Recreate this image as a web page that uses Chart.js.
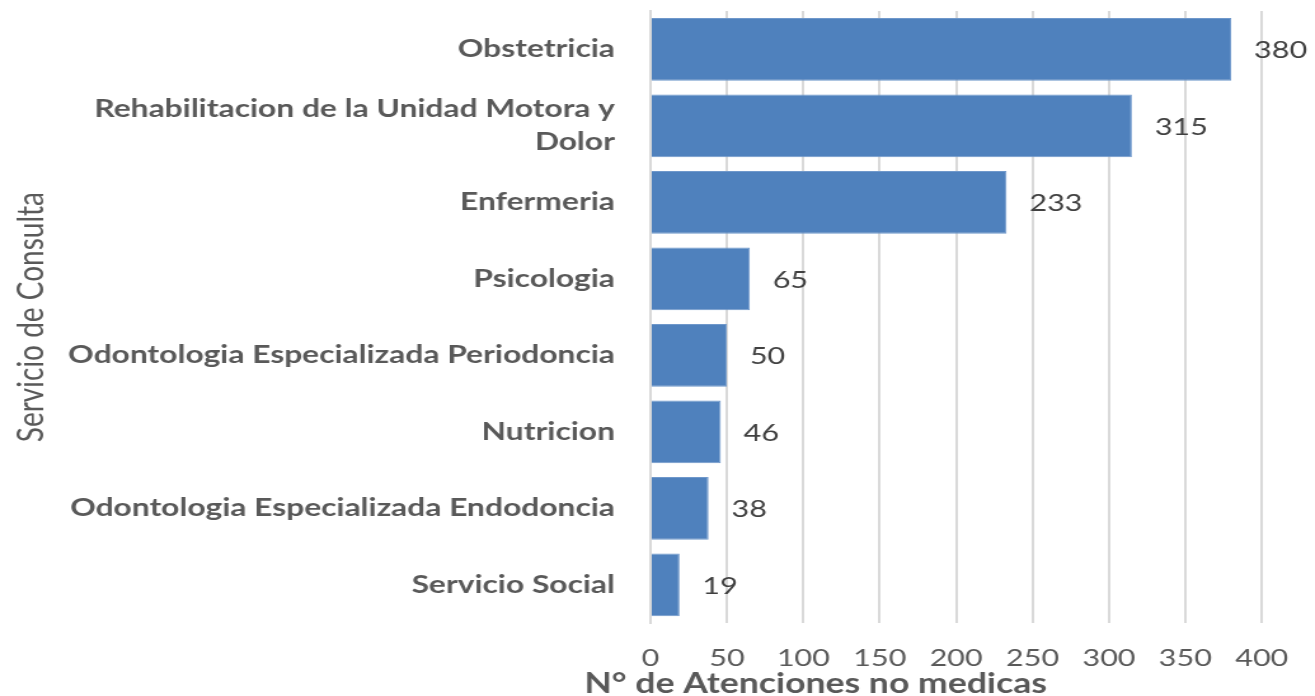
<!DOCTYPE html>
<html>
<head>
<meta charset="utf-8">
<script src="https://cdn.jsdelivr.net/npm/chart.js@4/dist/chart.umd.min.js"></script>
<style>
    body { margin: 0; background: #fff; overflow: hidden; }
    /* the source picture is stretched sideways, so the canvas is too */
    #chartBox { width: 1035px; height: 696px; transform: scaleX(1.2705); transform-origin: 0 0; }
</style>
</head>
<body>
<div id="chartBox">
    <canvas id="serviciosChart" width="1035" height="696"></canvas>
</div>
<script>
var servicios = [
    'Obstetricia',
    ['Rehabilitacion de la Unidad Motora y', 'Dolor'],
    'Enfermeria',
    'Psicologia',
    'Odontologia Especializada Periodoncia',
    'Nutricion',
    'Odontologia Especializada Endodoncia',
    'Servicio Social'
];
var atenciones = [380, 315, 233, 65, 50, 46, 38, 19];
var ejeX = { min: 0, max: 400, paso: 50 };
var tituloX = 'N° de Atenciones no medicas';
var tituloY = 'Servicio de Consulta';

var textColor = '#595959';
var gridColor = '#d9d9d9';

// numbers at the end of every bar
var valueLabels = {
    id: 'valueLabels',
    afterDatasetsDraw: function (chart) {
        var ctx = chart.ctx;
        var meta = chart.getDatasetMeta(0);
        ctx.save();
        ctx.font = '24px Lato';
        ctx.fillStyle = '#404040';
        ctx.textAlign = 'left';
        ctx.textBaseline = 'middle';
        meta.data.forEach(function (bar, i) {
            ctx.fillText(String(chart.data.datasets[0].data[i]), bar.x + 18, bar.y + 1);
        });
        ctx.restore();
    }
};

// x axis title sits a bit left of the plot centre in the source
var xTitle = {
    id: 'xTitle',
    afterDraw: function (chart) {
        var ctx = chart.ctx;
        ctx.save();
        ctx.font = 'bold 28px Lato';
        ctx.fillStyle = textColor;
        ctx.textAlign = 'center';
        ctx.textBaseline = 'middle';
        ctx.fillText(tituloX, chart.chartArea.left + 130, 684);
        ctx.restore();
    }
};

var ctx = document.getElementById('serviciosChart').getContext('2d');
var serviciosChart = new Chart(ctx, {
    type: 'bar',
    data: {
        labels: servicios,
        datasets: [{
            label: 'Atenciones',
            data: atenciones,
            backgroundColor: '#4f81bd',
            borderColor: '#6f98cb',
            borderWidth: 1,
            barPercentage: 0.82,
            categoryPercentage: 1
        }]
    },
    options: {
        indexAxis: 'y',
        responsive: false,
        animation: false,
        devicePixelRatio: 1,
        layout: { padding: { top: 11, right: 38, bottom: 2, left: 0 } },
        plugins: {
            legend: { display: false },
            tooltip: { enabled: false }
        },
        scales: {
            x: {
                min: ejeX.min,
                max: ejeX.max,
                ticks: {
                    stepSize: ejeX.paso,
                    padding: 21,
                    color: textColor,
                    font: { family: 'Lato', size: 24 }
                },
                grid: { color: gridColor, lineWidth: 2, drawTicks: false },
                border: { display: false }
            },
            y: {
                afterFit: function (scale) {
                    scale.width = 512;
                    scale.paddingTop = 0;
                    scale.paddingBottom = 0;
                },
                ticks: {
                    padding: 20,
                    color: textColor,
                    font: { family: 'Lato', size: 25, weight: 'bold', lineHeight: 1.32 }
                },
                grid: { display: false },
                border: { display: true, color: gridColor, width: 2 },
                title: {
                    display: true,
                    text: tituloY,
                    color: textColor,
                    padding: { top: 8, bottom: 0 },
                    font: { family: 'Lato', size: 28 }
                }
            }
        }
    },
    plugins: [valueLabels, xTitle]
});
</script>
</body>
</html>
